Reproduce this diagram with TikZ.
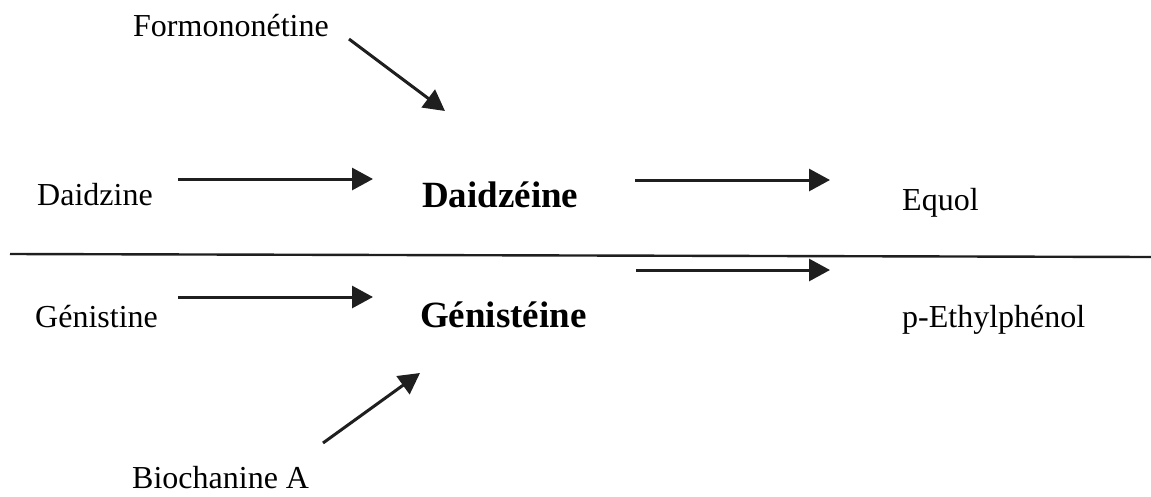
\documentclass[tikz,border=0pt]{standalone}
\usepackage{fontspec}
\setmainfont{Liberation Serif}
\usetikzlibrary{arrows.meta}
\begin{document}
\begin{tikzpicture}[x=1pt,y=-1pt,
  lbl/.style={anchor=base west, inner sep=0pt, font=\fontsize{32}{38}\selectfont},
  main/.style={anchor=base west, inner sep=0pt, font=\fontsize{37}{44}\selectfont\bfseries},
  conv/.style={line width=3pt, draw=black!88, -{Triangle[length=21pt,width=22pt]}}]
\useasboundingbox (0,0) rectangle (1151,496);

% compounds
\node[lbl]  (formo)  at (133,36)  {Formononétine};
\node[lbl]  (daidzine) at (37,205) {Daidzine};
\node[main] (daidzeine) at (422,207) {Daidzéine};
\node[lbl]  (equol)  at (902,210) {Equol};
\node[lbl]  (genistine) at (35,327) {Génistine};
\node[main] (genisteine) at (420,327) {Génistéine};
\node[lbl]  (ethyl)  at (902,327) {p-Ethylphénol};
\node[lbl]  (bioA)   at (132,488) {Biochanine A};

% arrow end points
\coordinate (f0) at (349,39);   \coordinate (f1) at (445,111);
\coordinate (d0) at (178,179);  \coordinate (d1) at (373,179);
\coordinate (e0) at (635,180);  \coordinate (e1) at (830,180);
\coordinate (g0) at (178,297);  \coordinate (g1) at (373,297);
\coordinate (p0) at (636,270);  \coordinate (p1) at (830,270);
\coordinate (b0) at (323,443);  \coordinate (b1) at (420,373);
\coordinate (s0) at (10,254);   \coordinate (s1) at (1151,257);

% conversions
\draw[conv] (f0) -- (f1);
\draw[conv] (d0) -- (d1);
\draw[conv] (e0) -- (e1);
\draw[conv] (g0) -- (g1);
\draw[conv] (p0) -- (p1);
\draw[conv] (b0) -- (b1);

% separator between the two series
\draw[line width=2.4pt, black!88] (s0) -- (s1);
\end{tikzpicture}
\end{document}
